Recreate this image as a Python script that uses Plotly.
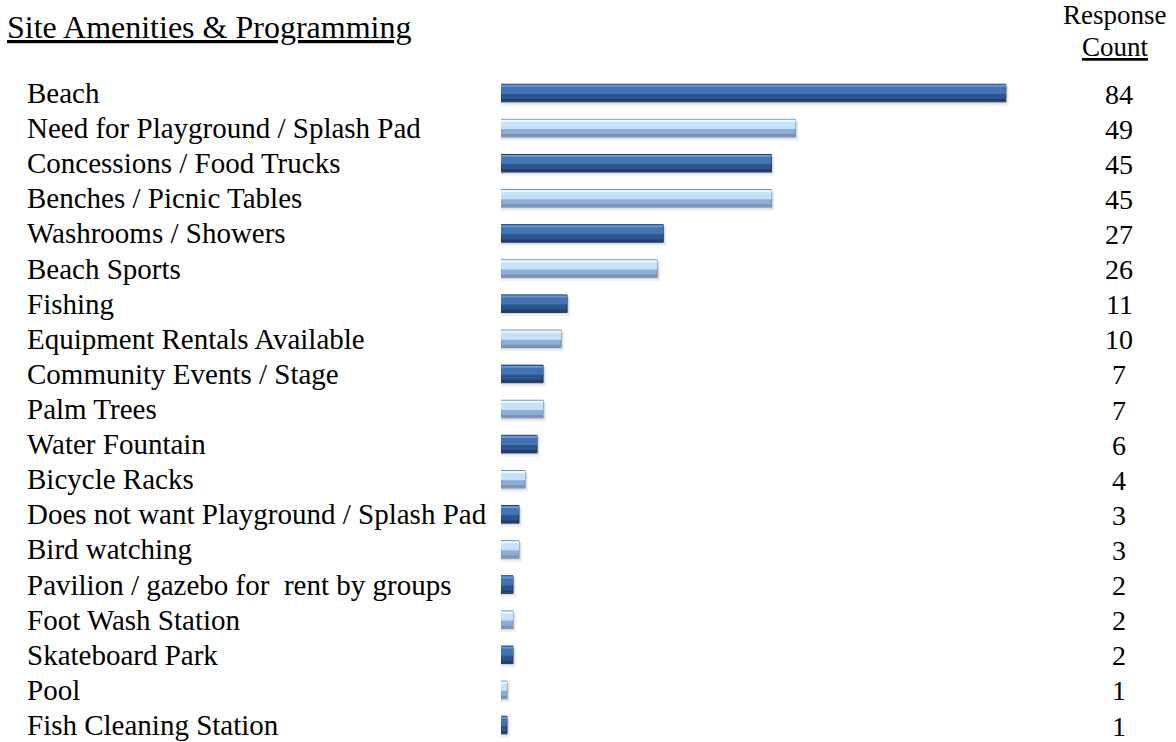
import plotly.graph_objects as go

# Survey responses: site amenities & programming
categories = [
    "Beach",
    "Need for Playground / Splash Pad",
    "Concessions / Food Trucks",
    "Benches / Picnic Tables",
    "Washrooms / Showers",
    "Beach Sports",
    "Fishing",
    "Equipment Rentals Available",
    "Community Events / Stage",
    "Palm Trees",
    "Water Fountain",
    "Bicycle Racks",
    "Does not want Playground / Splash Pad",
    "Bird watching",
    "Pavilion / gazebo for  rent by groups",
    "Foot Wash Station",
    "Skateboard Park",
    "Pool",
    "Fish Cleaning Station",
]
counts = [84, 49, 45, 45, 27, 26, 11, 10, 7, 7, 6, 4, 3, 3, 2, 2, 2, 1, 1]

title_text = "Site Amenities & Programming"
header_lines = ["Response", "Count"]

FONT = "Liberation Serif, Times New Roman, serif"
W, H = 1176, 742

# alternating dark / light bevel palette
dark = dict(body="#2C548D", upper="#4373B1", top="#6A97D0", bottom="#1E3E6D", edge="#1D3A63")
light = dict(body="#8FAED6", upper="#C6E1F8", top="#EAF8FF", bottom="#7893B9", edge="#7390B6")
pal = [dark if i % 2 == 0 else light for i in range(len(categories))]


def bar_layer(width, offset, colors, line=None, xs=None, hover=False):
    return go.Bar(
        y=categories, x=xs if xs is not None else counts, orientation="h",
        width=width, offset=offset,
        marker=dict(color=colors, line=line if line else dict(width=0)),
        hoverinfo=None if hover else "skip", showlegend=False,
    )


fig = go.Figure()
# soft drop shadow (two stacked translucent layers)
fig.add_trace(bar_layer(0.56, -0.2, "rgba(0,0,0,0.06)", xs=[c + 0.5 for c in counts]))
fig.add_trace(bar_layer(0.5, -0.2, "rgba(0,0,0,0.09)", xs=[c + 0.3 for c in counts]))
# bar body
fig.add_trace(bar_layer(0.5, -0.25, [p["body"] for p in pal],
                        line=dict(color=[p["edge"] for p in pal], width=1), hover=True))
# upper bevel band
fig.add_trace(bar_layer(0.25, -0.225, [p["upper"] for p in pal]))
# thin top highlight
fig.add_trace(bar_layer(0.06, -0.235, [p["top"] for p in pal]))
# thin lower shade
fig.add_trace(bar_layer(0.06, 0.17, [p["bottom"] for p in pal]))

annotations = []
# category labels, left aligned
for cat in categories:
    annotations.append(dict(
        x=25 / W, xref="paper", y=cat, yref="y", text=cat,
        xanchor="left", yanchor="middle", showarrow=False,
        font=dict(family=FONT, size=29, color="black"),
    ))
# response counts on the right
for cat, c in zip(categories, counts):
    annotations.append(dict(
        x=1119 / W, xref="paper", y=cat, yref="y", text=str(c),
        xanchor="center", yanchor="middle", showarrow=False, yshift=-1,
        font=dict(family=FONT, size=28, color="black"),
    ))
# title and column header
annotations.append(dict(
    x=5 / W, xref="paper", y=1 - 27 / H, yref="paper",
    text="<u>" + title_text + "</u>", xanchor="left", yanchor="middle",
    showarrow=False, font=dict(family=FONT, size=32, color="black"),
))
annotations.append(dict(
    x=1115 / W, xref="paper", y=1 - 15 / H, yref="paper",
    text=header_lines[0], xanchor="center", yanchor="middle",
    showarrow=False, font=dict(family=FONT, size=27, color="black"),
))
annotations.append(dict(
    x=1115 / W, xref="paper", y=1 - 47 / H, yref="paper",
    text="<u>" + header_lines[1] + "</u>", xanchor="center", yanchor="middle",
    showarrow=False, font=dict(family=FONT, size=27, color="black"),
))

fig.update_layout(
    width=W, height=H,
    margin=dict(l=0, r=0, t=0, b=0),
    paper_bgcolor="white", plot_bgcolor="white",
    barmode="overlay",
    xaxis=dict(domain=[501 / W, 1102 / W], range=[0, 100],
               visible=False, fixedrange=True),
    yaxis=dict(range=[18.484, -2.649], visible=False, fixedrange=True),
    annotations=annotations,
    showlegend=False,
)

fig.write_html("out.html")
